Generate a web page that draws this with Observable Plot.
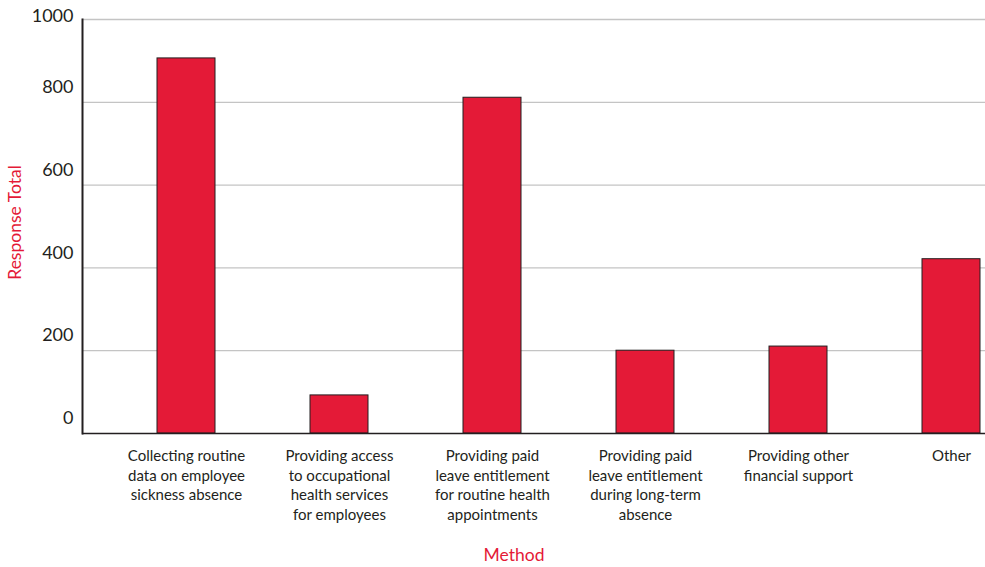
<!DOCTYPE html>
<html>
<head>
<meta charset="utf-8">
<script src="https://cdn.jsdelivr.net/npm/d3@7"></script>
<script src="https://cdn.jsdelivr.net/npm/@observablehq/plot@0.6"></script>
<style>
  html, body { margin: 0; padding: 0; background: #fff; }
  #chart svg { display: block; font-family: Lato, "Open Sans", sans-serif; }
</style>
</head>
<body>
<div id="chart"></div>
<script>
const categories = [
  "Collecting routine data on employee sickness absence",
  "Providing access to occupational health services for employees",
  "Providing paid leave entitlement for routine health appointments",
  "Providing paid leave entitlement during long-term absence",
  "Providing other financial support",
  "Other"
];
const tickLabels = [
  "Collecting routine\ndata on employee\nsickness absence",
  "Providing access\nto occupational\nhealth services\nfor employees",
  "Providing paid\nleave entitlement\nfor routine health\nappointments",
  "Providing paid\nleave entitlement\nduring long-term\nabsence",
  "Providing other\nfinancial support",
  "Other"
];
const values = [906, 92, 811, 200, 210, 421];
const yTicks = [0, 200, 400, 600, 800];
const yTopTick = [1000];
const gridTicks = [200, 400, 600, 800, 1000];
const xTitle = "Method";
const yTitle = "Response Total";

const data = categories.map((c, i) => ({category: c, value: values[i]}));
const labelOf = new Map(categories.map((c, i) => [c, tickLabels[i]]));

const red = "#e41a37";
const ink = "#231f20";

const chart = Plot.plot({
  width: 985,
  height: 567,
  marginLeft: 82,
  marginRight: 0,
  marginTop: 19,
  marginBottom: 134,
  style: {fontFamily: "Lato, 'Open Sans', sans-serif", background: "#fff"},
  x: {domain: categories, range: [154.5, 981.8], paddingInner: 0.623, paddingOuter: 0, axis: null},
  y: {domain: [0, 1000], axis: null},
  marks: [
    Plot.ruleY(gridTicks, {stroke: "#c4c4c4", strokeWidth: 1.3}),
    Plot.barY(data, {x: "category", y: "value", fill: red, stroke: ink, strokeWidth: 1}),
    Plot.ruleY([0], {stroke: ink, strokeWidth: 1.6}),
    Plot.frame({anchor: "left", stroke: ink, strokeWidth: 2}),
    Plot.axisY({ticks: yTicks, tickSize: 0, tickPadding: 9, dy: -15, fontSize: 18, fill: ink, label: null, tickFormat: d => String(d)}),
    Plot.axisY({ticks: yTopTick, tickSize: 0, tickPadding: 9, dy: -3, fontSize: 18, fill: ink, label: null, tickFormat: d => String(d)}),
    Plot.axisX({tickSize: 0, tickPadding: 14, fontSize: 15, lineHeight: 1.3, fill: ink, label: null,
      tickFormat: d => labelOf.get(d)}),
    Plot.text([xTitle], {frameAnchor: "bottom", textAnchor: "middle", dx: -20, dy: 122, fill: red, fontSize: 17.5, lineAnchor: "middle"}),
    Plot.text([yTitle], {frameAnchor: "left", textAnchor: "middle", dx: -67, dy: -4, rotate: -90, fill: red, fontSize: 17.5, lineAnchor: "middle"})
  ]
});
document.getElementById("chart").append(chart);
</script>
</body>
</html>
